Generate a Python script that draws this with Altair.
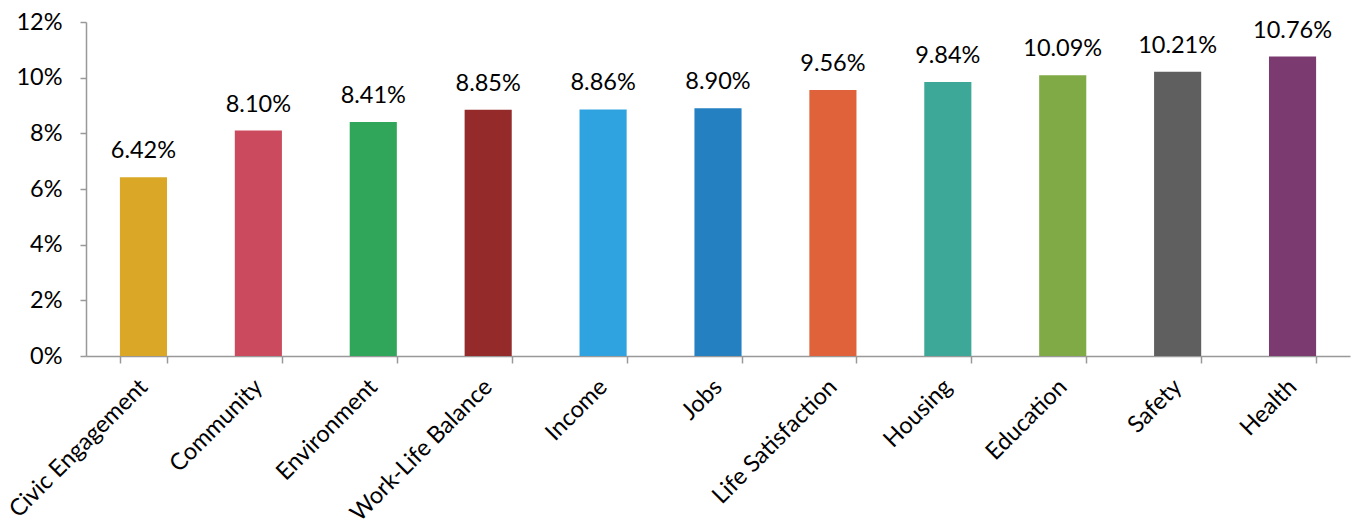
import altair as alt
import pandas as pd

categories = ["Civic Engagement", "Community", "Environment", "Work-Life Balance",
              "Income", "Jobs", "Life Satisfaction", "Housing", "Education",
              "Safety", "Health"]
values = [0.0642, 0.0810, 0.0841, 0.0885, 0.0886, 0.0890, 0.0956, 0.0984,
          0.1009, 0.1021, 0.1076]
colors = ["#DAA826", "#CC4A5E", "#30A65A", "#952A2A", "#2EA3E0", "#2480C0",
          "#E0623A", "#3DA897", "#7FAA45", "#5F5F5F", "#7B3A70"]

df = pd.DataFrame({"category": categories, "value": values})

FONT = "Lato"
SIZE = 23.5

x = alt.X("category:N", sort=categories, title=None,
          scale=alt.Scale(paddingInner=0.59, paddingOuter=0.295),
          axis=alt.Axis(labelAngle=-45, labelAlign="right", labelBaseline="middle",
                        labelFontSize=SIZE, labelFont=FONT, labelColor="#000000",
                        labelPadding=20, tickBand="extent", tickSize=7,
                        tickColor="#999999", domainColor="#999999",
                        domainWidth=1.5, tickWidth=1.5, labelLimit=400))
y = alt.Y("value:Q", title=None,
          scale=alt.Scale(domain=[0, 0.12], nice=False),
          axis=alt.Axis(values=[0, 0.02, 0.04, 0.06, 0.08, 0.10, 0.12], format=".0%",
                        grid=False, labelFontSize=SIZE, labelFont=FONT,
                        labelColor="#000000", labelPadding=18, tickSize=6,
                        tickColor="#999999", domainColor="#999999",
                        domainWidth=1.5, tickWidth=1.5))

bars = alt.Chart(df).mark_bar().encode(
    x=x, y=y,
    color=alt.Color("category:N", sort=categories,
                    scale=alt.Scale(domain=categories, range=colors), legend=None),
)

labels = alt.Chart(df).mark_text(fontSize=SIZE, font=FONT, baseline="alphabetic", dy=-19,
                                 color="#000000").encode(
    x=alt.X("category:N", sort=categories),
    y=alt.Y("value:Q"),
    text=alt.Text("value:Q", format=".2%"),
)

chart = (bars + labels).properties(
    width=1264, height=334,
    autosize=alt.AutoSizeParams(type="none"),
    padding={"left": 86, "top": 22, "right": 7, "bottom": 171},
    background="#ffffff",
).configure_view(stroke=None)

chart.save("out.html", embed_options={"renderer": "svg", "actions": False})
